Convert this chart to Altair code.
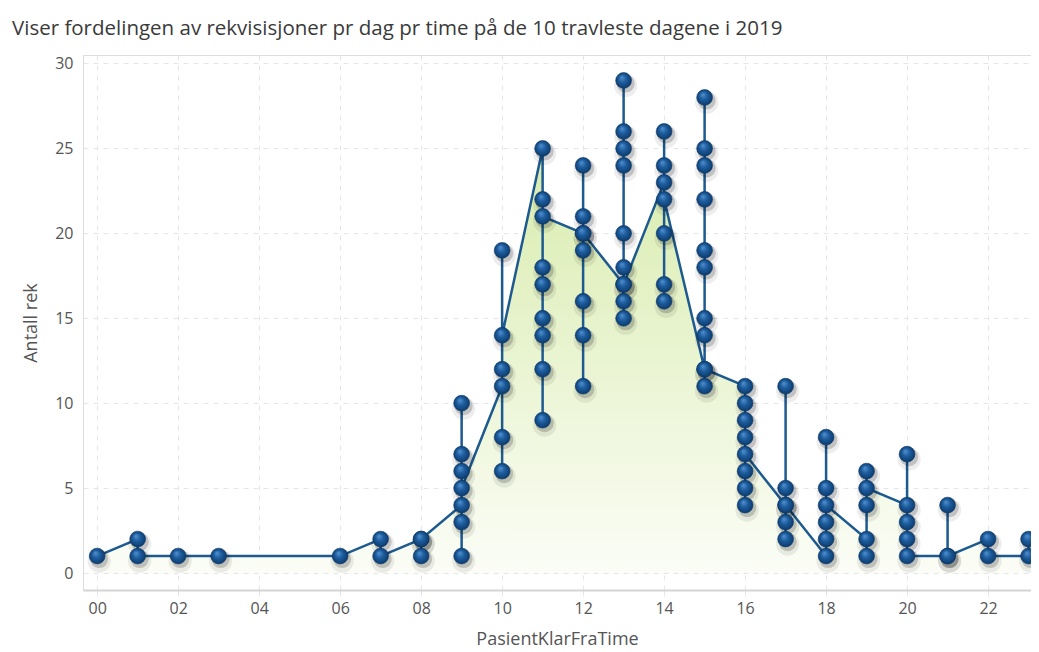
import altair as alt
import pandas as pd

# Hours (x) and the counts per hour, in the order the line passes through them
timer = [0, 1, 2, 3, 6, 7, 8, 9, 10, 11, 12, 13, 14, 15, 16, 17, 18, 19, 20, 21, 22, 23]
antall_per_time = [
    [1],
    [2, 1],
    [1],
    [1],
    [1],
    [2, 1],
    [2, 1, 2],
    [4, 10, 7, 6, 3, 1, 5],
    [11, 6, 8, 12, 19, 14],
    [25, 9, 12, 14, 15, 17, 18, 22, 21],
    [20, 11, 14, 16, 19, 21, 24, 20],
    [17, 15, 16, 18, 20, 24, 25, 26, 29, 17],
    [23, 26, 24, 20, 17, 16, 22],
    [12, 28, 25, 24, 22, 19, 18, 15, 14, 11, 12],
    [11, 10, 9, 8, 4, 5, 6, 7],
    [4, 11, 5, 3, 2, 4],
    [1, 8, 5, 3, 2, 4],
    [2, 1, 6, 4, 5],
    [4, 7, 3, 2, 1],
    [1, 4, 1],
    [2, 1],
    [1, 2],
]
y_ticks = [0, 5, 10, 15, 20, 25, 30]
x_ticks = [0, 2, 4, 6, 8, 10, 12, 14, 16, 18, 20, 22]

rows = []
i = 0
for t, vals in zip(timer, antall_per_time):
    for v in vals:
        rows.append({"PasientKlarFraTime": t, "Antall rek": v, "idx": i, "base": 0})
        i += 1
df = pd.DataFrame(rows)

FONT = "Open Sans"

x = alt.X(
    "PasientKlarFraTime:Q",
    scale=alt.Scale(domain=[-0.35, 23.06], nice=False, zero=False),
    axis=alt.Axis(
        values=x_ticks,
        labelExpr="datum.value < 10 ? '0' + datum.value : '' + datum.value",
        title="PasientKlarFraTime",
        grid=True,
        gridDash=[5, 5],
        gridColor="#e3e6ea",
        domainColor="#d4d4d4",
        domainWidth=2,
        ticks=True,
        tickColor="#e3e6ea",
        tickSize=6,
        labelPadding=4,
        labelFontSize=16,
        labelColor="#555555",
        labelFont=FONT,
        titleFont=FONT,
        titleFontSize=18,
        titleFontWeight="normal",
        titleColor="#555555",
        titlePadding=14,
    ),
)
y = alt.Y(
    "Antall rek:Q",
    stack=None,
    scale=alt.Scale(domain=[-1, 30.5], nice=False, zero=False),
    axis=alt.Axis(
        values=y_ticks,
        title="Antall rek",
        grid=True,
        gridDash=[5, 5],
        gridColor="#e3e6ea",
        domainColor="#dcdcdc",
        domainWidth=1,
        ticks=False,
        labelPadding=10,
        labelFontSize=16,
        labelColor="#555555",
        labelFont=FONT,
        titleFont=FONT,
        titleFontSize=18,
        titleFontWeight="normal",
        titleColor="#555555",
        titlePadding=14,
    ),
)

order = alt.Order("idx:Q")

area = alt.Chart(df).mark_area(
    fill=alt.LinearGradient(
        gradient="linear",
        x1=0, x2=0, y1=0, y2=1,
        stops=[
            alt.GradientStop(offset=0, color="#d3e9a2"),
            alt.GradientStop(offset=1, color="#fbfdf6"),
        ],
    ),
    interpolate="linear",
).encode(x=x, y=y, y2="base:Q")

line = alt.Chart(df).mark_line(color="#1d5a8f", strokeWidth=2.5).encode(
    x=x, y=y, order=order
)

shadow1 = alt.Chart(df).mark_circle(
    color="#000000", opacity=0.07, size=540, xOffset=2, yOffset=5
).encode(x=x, y=y)
shadow2 = alt.Chart(df).mark_circle(
    color="#000000", opacity=0.18, size=330, xOffset=2, yOffset=3
).encode(x=x, y=y)

points = alt.Chart(df).mark_point(
    filled=True,
    shape="circle",
    size=250,
    opacity=1,
    fill=alt.RadialGradient(
        gradient="radial",
        x1=0.38, y1=0.3, r1=0.0,
        x2=0.5, y2=0.5, r2=0.55,
        stops=[
            alt.GradientStop(offset=0, color="#5593d2"),
            alt.GradientStop(offset=0.45, color="#1d5d9e"),
            alt.GradientStop(offset=1, color="#0b3766"),
        ],
    ),
    stroke="#0b3766",
    strokeWidth=0.6,
).encode(x=x, y=y)

chart = (
    alt.layer(area, line, shadow1, shadow2, points)
    .properties(
        width=948,
        height=535,
        autosize=alt.AutoSizeParams(type="none"),
        padding={"left": 75, "top": 47, "right": 0, "bottom": 58},
        title=alt.TitleParams(
            "Viser fordelingen av rekvisisjoner pr dag pr time på de 10 travleste dagene i 2019",
            anchor="start",
            frame="group",
            dx=-71,
            offset=16,
            font=FONT,
            fontSize=20.5,
            fontWeight="normal",
            color="#3a3a3a",
        ),
    )
    .configure_view(stroke=None)
    .configure(background="white")
)

chart.save("out.html", embed_options={"renderer": "svg", "actions": False})
